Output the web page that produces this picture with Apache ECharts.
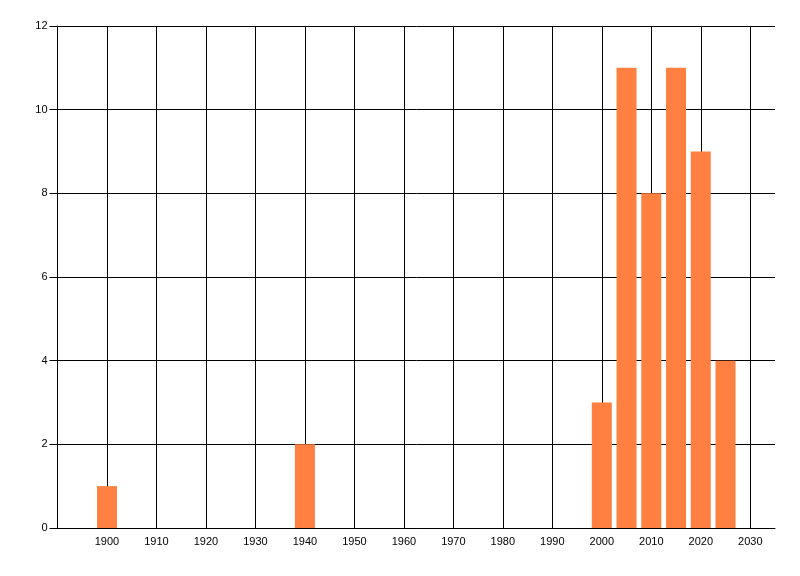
<!DOCTYPE html>
<html><head><meta charset="utf-8">
<script src="https://cdn.jsdelivr.net/npm/echarts@6/dist/echarts.min.js"></script>
<style>html,body{margin:0;padding:0;background:#fff}#c{width:800px;height:576px}</style>
</head><body><div id="c"></div>
<script>
const years = [1900, 1940, 2000, 2005, 2010, 2015, 2020, 2025];
const counts = [1, 2, 3, 11, 8, 11, 9, 4];
const xTicks = [1900, 1910, 1920, 1930, 1940, 1950, 1960, 1970, 1980, 1990, 2000, 2010, 2020, 2030];

const chart = echarts.init(document.getElementById('c'), null, {renderer: 'canvas'});
const font = 'Liberation Sans';
chart.setOption({
  animation: false,
  grid: {show: false, left: 57.5, right: 25, top: 26, bottom: 48, containLabel: false},
  xAxis: {
    type: 'value', min: 1890, max: 2035, interval: 10,
    axisLine: {show: true, onZero: false, lineStyle: {color: '#000', width: 1}},
    axisTick: {show: false},
    splitLine: {show: false},
    axisLabel: {
      color: '#000', fontFamily: font, fontSize: 11, margin: 8,
      formatter: v => xTicks.includes(v) ? String(v) : ''
    }
  },
  yAxis: {
    type: 'value', min: 0, max: 12, interval: 2,
    axisLine: {show: true, lineStyle: {color: '#000', width: 1}},
    axisTick: {show: true, length: 8, lineStyle: {color: '#000', width: 1}},
    splitLine: {show: true, lineStyle: {color: '#000', width: 1}},
    axisLabel: {color: '#000', fontFamily: font, fontSize: 11, margin: 10}
  },
  series: [{
    type: 'bar',
    data: years.map((y, i) => [y, counts[i]]),
    barWidth: 20,
    itemStyle: {color: '#FF8040'},
    z: 3,
    markLine: {
      silent: true,
      symbol: ['none', 'none'],
      label: {show: false},
      lineStyle: {color: '#000', width: 1, type: 'solid'},
      z: 1,
      data: xTicks.map(v => ({xAxis: v}))
    }
  }]
});
</script></body></html>
